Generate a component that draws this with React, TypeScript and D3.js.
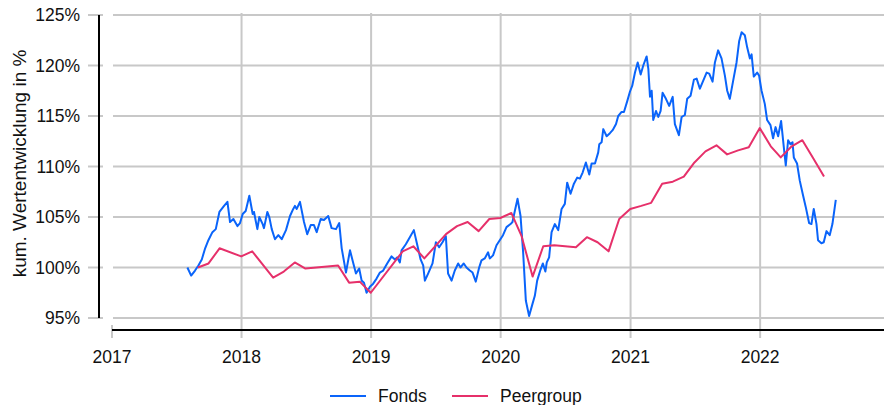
import React from 'react'
import { scaleUtc, scaleLinear, line } from 'd3'

// Fonds: Zeitpunkt als Dezimaljahr, Wert in % (kumuliert)
const fondsYears = [
    2017.582, 2017.611, 2017.641, 2017.667, 2017.693, 2017.719, 2017.744, 2017.775, 2017.801, 2017.829,
    2017.865, 2017.891, 2017.911, 2017.937, 2017.968, 2017.988, 2018.009, 2018.032, 2018.060, 2018.086,
    2018.096, 2018.122, 2018.137, 2018.163, 2018.173, 2018.199, 2018.214, 2018.233, 2018.258, 2018.284,
    2018.310, 2018.343, 2018.374, 2018.399, 2018.412, 2018.426, 2018.451, 2018.482, 2018.507, 2018.534,
    2018.559, 2018.580, 2018.611, 2018.636, 2018.669, 2018.695, 2018.729, 2018.754, 2018.773, 2018.806,
    2018.837, 2018.857, 2018.883, 2018.908, 2018.927, 2018.945, 2018.965, 2018.991, 2019.016, 2019.042,
    2019.068, 2019.093, 2019.124, 2019.158, 2019.184, 2019.201, 2019.222, 2019.235, 2019.268, 2019.299,
    2019.330, 2019.355, 2019.382, 2019.402, 2019.415, 2019.440, 2019.474, 2019.500, 2019.525, 2019.551,
    2019.577, 2019.594, 2019.621, 2019.646, 2019.672, 2019.690, 2019.715, 2019.736, 2019.762, 2019.783,
    2019.808, 2019.834, 2019.852, 2019.877, 2019.903, 2019.916, 2019.941, 2019.968, 2019.998, 2020.018,
    2020.045, 2020.076, 2020.091, 2020.109, 2020.130, 2020.153, 2020.173, 2020.194, 2020.219, 2020.245,
    2020.263, 2020.281, 2020.307, 2020.325, 2020.344, 2020.355, 2020.373, 2020.392, 2020.417, 2020.443,
    2020.469, 2020.494, 2020.512, 2020.538, 2020.564, 2020.589, 2020.610, 2020.631, 2020.656, 2020.682,
    2020.700, 2020.726, 2020.751, 2020.759, 2020.777, 2020.790, 2020.816, 2020.841, 2020.862, 2020.888,
    2020.905, 2020.931, 2020.949, 2020.975, 2020.995, 2021.013, 2021.034, 2021.055, 2021.078, 2021.098,
    2021.124, 2021.137, 2021.150, 2021.163, 2021.175, 2021.196, 2021.214, 2021.232, 2021.247, 2021.273,
    2021.298, 2021.325, 2021.342, 2021.373, 2021.394, 2021.419, 2021.437, 2021.463, 2021.489, 2021.510,
    2021.535, 2021.561, 2021.587, 2021.607, 2021.633, 2021.651, 2021.676, 2021.702, 2021.728, 2021.746,
    2021.766, 2021.792, 2021.818, 2021.838, 2021.857, 2021.882, 2021.900, 2021.921, 2021.934, 2021.951,
    2021.977, 2021.992, 2022.011, 2022.036, 2022.054, 2022.080, 2022.100, 2022.119, 2022.139, 2022.162,
    2022.183, 2022.198, 2022.216, 2022.234, 2022.250, 2022.260, 2022.285, 2022.306, 2022.332, 2022.352,
    2022.378, 2022.396, 2022.414, 2022.435, 2022.447, 2022.473, 2022.491, 2022.512, 2022.537, 2022.558,
    2022.584,
]
const fondsValues = [
    100.0, 99.2, 99.7, 100.2, 100.8, 101.9, 102.7, 103.5, 103.8, 105.5,
    106.1, 106.5, 104.5, 104.8, 104.1, 104.4, 105.3, 105.6, 107.1, 105.3,
    105.5, 103.8, 105.0, 104.3, 103.9, 105.5, 105.0, 103.8, 102.8, 103.2,
    102.8, 103.7, 105.1, 105.8, 106.1, 105.8, 106.5, 104.5, 103.3, 104.2,
    104.2, 103.5, 104.8, 104.7, 105.1, 103.9, 103.8, 104.4, 101.9, 99.5,
    101.7, 100.7, 99.4, 99.9, 98.7, 98.5, 97.5, 98.1, 98.4, 98.9,
    99.5, 99.7, 100.4, 101.1, 100.8, 101.0, 100.5, 101.7, 102.3, 103.0,
    103.7, 102.3, 100.8, 100.2, 98.7, 99.4, 100.4, 102.5, 102.0, 102.5,
    103.1, 99.4, 98.7, 99.7, 100.4, 100.0, 100.4, 100.0, 99.7, 99.5,
    98.6, 100.0, 100.7, 100.9, 101.5, 100.9, 101.2, 102.2, 102.8, 103.2,
    104.0, 104.3, 104.5, 105.6, 106.8, 105.1, 101.5, 96.7, 95.2, 96.4,
    97.2, 98.7, 99.8, 100.4, 99.6, 100.5, 101.0, 103.5, 104.3, 103.7,
    105.8, 106.3, 108.4, 107.3, 108.3, 108.9, 108.8, 109.4, 110.4, 109.2,
    110.3, 110.3, 111.4, 112.2, 112.4, 113.7, 113.0, 113.3, 113.6, 114.2,
    115.0, 115.4, 115.4, 116.5, 117.4, 118.0, 119.3, 120.3, 119.1, 120.0,
    120.9, 119.7, 116.9, 117.5, 114.6, 115.5, 114.9, 115.5, 117.3, 116.7,
    116.0, 116.9, 114.2, 113.1, 114.9, 115.1, 116.7, 117.0, 118.6, 118.7,
    117.7, 118.5, 119.3, 119.2, 118.4, 120.3, 121.5, 120.7, 119.0, 117.5,
    116.7, 118.5, 120.3, 122.4, 123.3, 123.0, 121.8, 120.7, 121.1, 118.9,
    119.3, 119.0, 117.5, 116.2, 114.6, 114.1, 112.8, 113.9, 113.0, 114.5,
    111.9, 110.1, 112.6, 112.2, 112.4, 110.9, 110.3, 108.6, 107.1, 106.0,
    104.4, 104.3, 105.8, 104.3, 102.7, 102.4, 102.5, 103.6, 103.2, 104.3,
    106.7,
]

// Peergroup: Monatsenden
const peerDates = [
    '2017-08-31', '2017-09-30', '2017-10-31', '2017-12-31', '2018-01-31', '2018-03-31', '2018-04-30',
    '2018-05-31', '2018-06-30', '2018-09-30', '2018-10-31', '2018-11-30', '2018-12-31', '2019-03-31',
    '2019-04-30', '2019-05-31', '2019-07-31', '2019-08-31', '2019-09-30', '2019-10-31', '2019-11-30',
    '2019-12-31', '2020-01-31', '2020-02-29', '2020-03-31', '2020-04-30', '2020-05-31', '2020-07-31',
    '2020-08-31', '2020-09-30', '2020-10-31', '2020-11-30', '2020-12-31', '2021-01-31', '2021-02-28',
    '2021-03-31', '2021-04-30', '2021-05-31', '2021-06-30', '2021-07-31', '2021-08-31', '2021-09-30',
    '2021-10-31', '2021-11-30', '2021-12-31', '2022-01-31', '2022-02-28', '2022-03-31', '2022-04-30',
    '2022-05-31', '2022-06-30',
]
const peerValues = [
    100.0, 100.4, 101.9, 101.1, 101.6, 99.0, 99.6,
    100.5, 99.9, 100.2, 98.5, 98.6, 97.5, 101.6,
    102.1, 100.9, 103.3, 104.1, 104.5, 103.6, 104.8,
    104.9, 105.4, 103.1, 99.1, 102.1, 102.2, 102.0,
    103.0, 102.5, 101.6, 104.8, 105.8, 106.1, 106.4,
    108.3, 108.5, 109.0, 110.4, 111.5, 112.1, 111.2,
    111.6, 111.9, 113.8, 112.0, 110.9, 112.0, 112.6,
    110.8, 109.0,
]

const yTicks = [95, 100, 105, 110, 115, 120, 125]
const xTicks = [2017, 2018, 2019, 2020, 2021, 2022]
const seriesNames = ['Fonds', 'Peergroup']
const seriesColors = ['#0a64fa', '#e6306a']

const W = 884
const H = 405
const FONT = '"Liberation Sans", Arial, sans-serif'

const fromDecimal = (t: number) => {
    const yr = Math.floor(t)
    const a = Date.UTC(yr, 0, 1)
    const b = Date.UTC(yr + 1, 0, 1)
    return new Date(a + (t - yr) * (b - a))
}

const App = () => {
    const x = scaleUtc()
        .domain([new Date(Date.UTC(2017, 0, 1)), new Date(Date.UTC(2022, 11, 16))])
        .range([112, W])
    const y = scaleLinear().domain([95, 125]).range([318, 15])

    const fonds = fondsYears.map((t, i) => ({ date: fromDecimal(t), value: fondsValues[i] }))
    const peer = peerDates.map((d, i) => ({ date: new Date(d + 'T00:00:00Z'), value: peerValues[i] }))

    const path = line<{ date: Date, value: number }>()
        .x(d => x(d.date))
        .y(d => y(d.value))

    const axisY = 330
    const gridColor = '#c8c8c8'
    const fs = 17.5

    return (
        <svg width={W} height={H} style={{ position: 'absolute', left: 0, top: 0 }} fontFamily={FONT}>
            <rect width={W} height={H} fill="#fff" />

            {/* horizontale Gitterlinien + Ticks */}
            {yTicks.map(t => (
                <g key={'gy' + t}>
                    <line x1={113} x2={W} y1={y(t)} y2={y(t)} stroke={gridColor} strokeWidth={2} />
                    <line x1={88} x2={103} y1={y(t)} y2={y(t)} stroke={gridColor} strokeWidth={2} />
                </g>
            ))}

            {/* vertikale Gitterlinien + Ticks */}
            {xTicks.map(yr => {
                const xx = x(new Date(Date.UTC(yr, 0, 1)))
                return (
                    <line key={'gx' + yr} x1={xx} x2={xx} y1={yr === 2017 ? 325 : 13} y2={338}
                        stroke={gridColor} strokeWidth={2} />
                )
            })}

            {/* Achsen */}
            <line x1={99} x2={99} y1={y(125)} y2={y(95)} stroke="#000" strokeWidth={2} />
            <line x1={112} x2={W} y1={axisY} y2={axisY} stroke="#000" strokeWidth={2} />

            {yTicks.map(t => (
                <text key={'ly' + t} x={80} y={y(t)} dy="0.36em" textAnchor="end" fontSize={fs} fill="#111">
                    {t}%
                </text>
            ))}
            {xTicks.map(yr => (
                <text key={'lx' + yr} x={x(new Date(Date.UTC(yr, 0, 1)))} y={357} dy="0.36em"
                    textAnchor="middle" fontSize={fs} fill="#111">
                    {yr}
                </text>
            ))}

            <text transform={`translate(19,${(y(125) + y(95)) / 2 - 3}) rotate(-90)`} textAnchor="middle"
                dy="0.36em" fontSize={19} fill="#111">
                kum. Wertentwicklung in %
            </text>

            {/* Linien */}
            <path d={path(fonds) ?? ''} fill="none" stroke={seriesColors[0]} strokeWidth={2}
                strokeLinejoin="round" />
            <path d={path(peer) ?? ''} fill="none" stroke={seriesColors[1]} strokeWidth={2}
                strokeLinejoin="round" />

            {/* Legende */}
            {seriesNames.map((name, i) => {
                const lx = [330, 452][i]
                return (
                    <g key={name}>
                        <line x1={lx} x2={lx + 36} y1={396} y2={396} stroke={seriesColors[i]} strokeWidth={2} />
                        <text x={lx + 48} y={396} dy="0.36em" fontSize={fs} fill="#111">{name}</text>
                    </g>
                )
            })}
        </svg>
    )
}

export default App
